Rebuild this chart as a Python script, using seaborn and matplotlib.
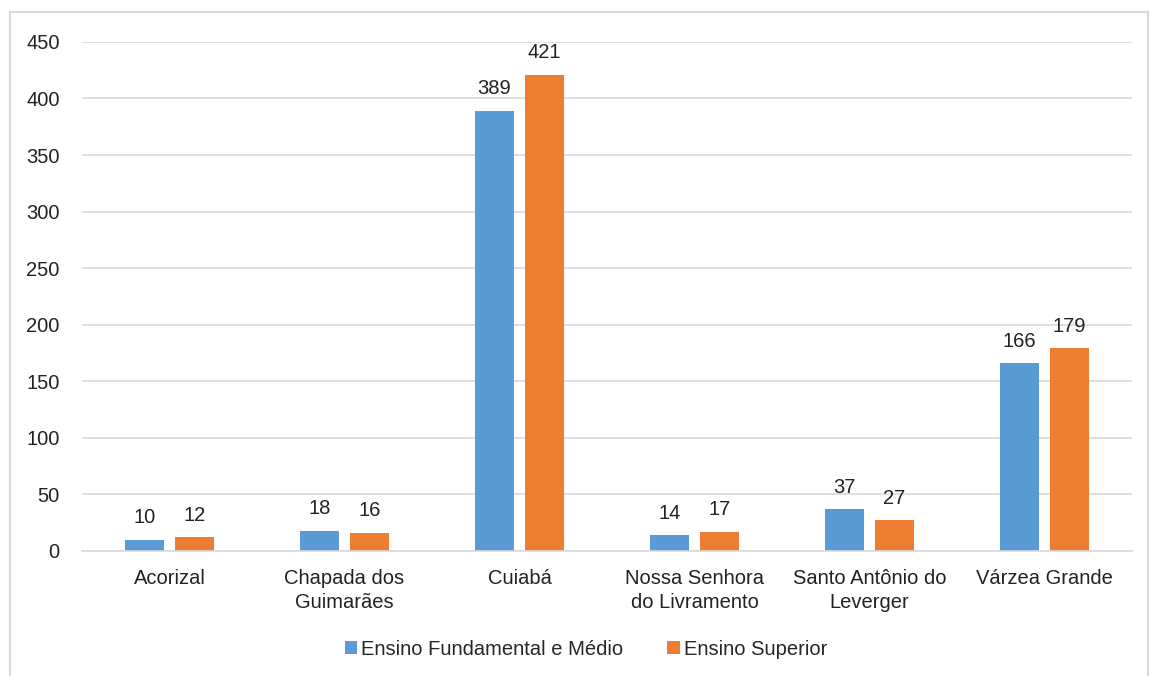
import matplotlib
matplotlib.use("Agg")
import matplotlib.pyplot as plt
from matplotlib.patches import Rectangle
import seaborn as sns
import pandas as pd

# data
municipios = ["Acorizal", "Chapada dos\nGuimarães", "Cuiabá",
              "Nossa Senhora\ndo Livramento", "Santo Antônio do\nLeverger", "Várzea Grande"]
fundamental_medio = [10, 18, 389, 14, 37, 166]
superior = [12, 16, 421, 17, 27, 179]
series = ["Ensino Fundamental e Médio", "Ensino Superior"]
cores = ["#5B9BD5", "#ED7D31"]

df = pd.DataFrame({
    "municipio": municipios * 2,
    "valor": fundamental_medio + superior,
    "serie": [series[0]] * len(municipios) + [series[1]] * len(municipios),
})

sns.set_style("white")
plt.rcParams["font.family"] = ["Liberation Sans", "DejaVu Sans"]

fig = plt.figure(figsize=(11.5, 6.76), dpi=100)
ax = fig.add_axes([0.0713, 0.185, 0.913, 0.753])

sns.barplot(data=df, x="municipio", y="valor", hue="serie", palette=cores,
            width=0.571, gap=0.22, ax=ax, legend=True, saturation=1, linewidth=0)

for cont in ax.containers:
    ax.bar_label(cont, padding=9, fontsize=14.5, color="#222222")

ax.set_ylim(0, 450)
ax.set_yticks(range(0, 451, 50))
ax.yaxis.grid(True, color="#D9D9D9", linewidth=1.2)
ax.set_axisbelow(True)
for s in ["top", "right", "left"]:
    ax.spines[s].set_visible(False)
ax.spines["bottom"].set_color("#D9D9D9")
ax.spines["bottom"].set_linewidth(1.2)
ax.tick_params(axis="both", length=0, labelsize=14.5, colors="#222222")
ax.tick_params(axis="y", pad=16)
ax.tick_params(axis="x", pad=13)
for lbl in ax.get_xticklabels():
    lbl.set_linespacing(1.35)
ax.set_xlabel("")
ax.set_ylabel("")

ax.legend(loc="center", bbox_to_anchor=(0.48, -0.193), ncol=2, frameon=False,
          fontsize=14.5, handlelength=0.6, handleheight=0.6, handletextpad=0.2,
          columnspacing=2.2)

# outer chart frame
fig.patches.append(Rectangle((10 / 1150, -0.05), 1138 / 1150, 1 - 12 / 676 + 0.05,
                             transform=fig.transFigure, fill=False,
                             edgecolor="#D9D9D9", linewidth=1.5))

fig.savefig("out.png", dpi=100)
